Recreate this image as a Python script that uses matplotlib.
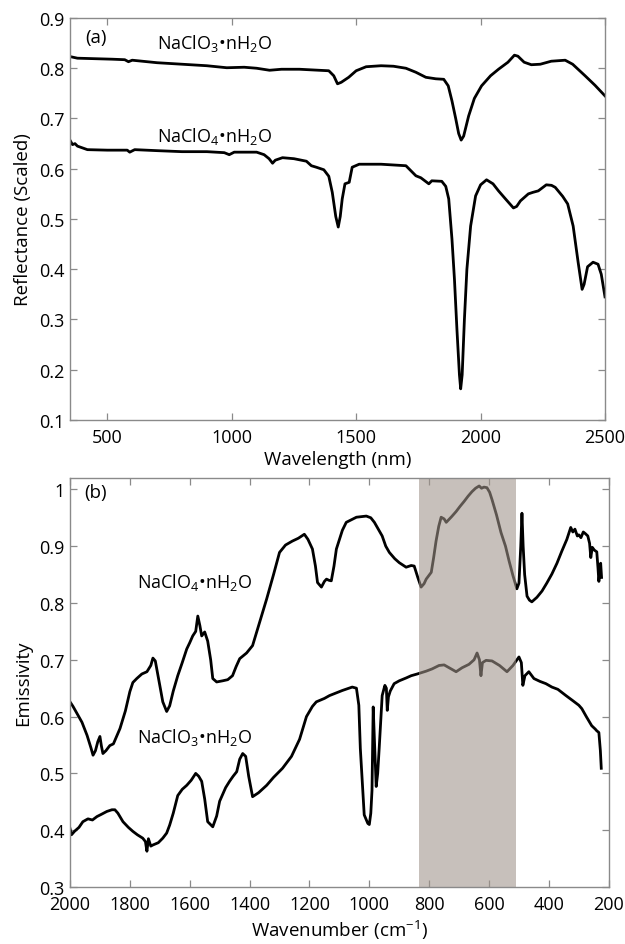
import matplotlib
matplotlib.use("Agg")
import matplotlib.pyplot as plt

plt.rcParams['font.family'] = ['Open Sans', 'DejaVu Sans']
plt.rcParams['mathtext.fontset'] = 'custom'
plt.rcParams['mathtext.rm'] = 'Open Sans'
plt.rcParams['mathtext.it'] = 'Open Sans:italic'

# (a) VNIR reflectance, wavelength in nm
wl_chlorate = [352, 380, 450, 520, 570, 585, 600, 700, 800, 900, 980, 1050, 1100, 1152, 1200,
               1272, 1350, 1390, 1410, 1425, 1440, 1470, 1500, 1540, 1600, 1650, 1700, 1740,
               1780, 1820, 1852, 1870, 1885, 1900, 1912, 1922, 1932, 1952, 1975, 2004, 2040,
               2072, 2110, 2136, 2150, 2175, 2204, 2240, 2284, 2340, 2370, 2420, 2460, 2500]
refl_chlorate = [0.823, 0.820, 0.819, 0.818, 0.817, 0.813, 0.816, 0.811, 0.808, 0.805, 0.801,
                 0.802, 0.800, 0.796, 0.798, 0.798, 0.796, 0.795, 0.785, 0.769, 0.772, 0.782,
                 0.795, 0.803, 0.805, 0.804, 0.800, 0.792, 0.782, 0.779, 0.778, 0.765, 0.735,
                 0.700, 0.670, 0.657, 0.665, 0.705, 0.740, 0.765, 0.785, 0.798, 0.812, 0.826,
                 0.824, 0.812, 0.807, 0.808, 0.814, 0.816, 0.808, 0.785, 0.766, 0.745]

wl_perchlorate = [352, 360, 370, 380, 420, 500, 580, 590, 610, 700, 800, 900, 970, 990, 1010,
                  1100, 1130, 1150, 1164, 1175, 1204, 1250, 1300, 1320, 1340, 1370, 1390, 1404,
                  1418, 1428, 1436, 1444, 1455, 1472, 1484, 1512, 1600, 1700, 1740, 1760, 1792,
                  1804, 1844, 1860, 1872, 1885, 1895, 1905, 1915, 1920, 1926, 1935, 1945, 1960,
                  1980, 2000, 2024, 2050, 2072, 2100, 2132, 2145, 2160, 2192, 2210, 2232, 2264,
                  2285, 2300, 2330, 2350, 2372, 2392, 2408, 2416, 2430, 2452, 2472, 2485, 2500]
refl_perchlorate = [0.655, 0.648, 0.650, 0.645, 0.638, 0.637, 0.637, 0.633, 0.638, 0.636, 0.634,
                    0.634, 0.632, 0.628, 0.633, 0.633, 0.628, 0.620, 0.611, 0.617, 0.622, 0.620,
                    0.615, 0.606, 0.603, 0.598, 0.585, 0.553, 0.505, 0.484, 0.505, 0.540, 0.570,
                    0.573, 0.603, 0.609, 0.609, 0.606, 0.586, 0.582, 0.570, 0.576, 0.575, 0.565,
                    0.540, 0.460, 0.380, 0.280, 0.190, 0.162, 0.190, 0.300, 0.400, 0.486, 0.546,
                    0.568, 0.578, 0.570, 0.556, 0.540, 0.522, 0.525, 0.536, 0.550, 0.553, 0.556,
                    0.568, 0.567, 0.563, 0.545, 0.530, 0.486, 0.414, 0.360, 0.370, 0.405, 0.414,
                    0.410, 0.390, 0.345]

# (b) thermal IR emissivity, wavenumber in cm-1
wn_perchlorate = [2000, 1990, 1973, 1960, 1943, 1930, 1923, 1915, 1907, 1900, 1895, 1890, 1880,
                  1867, 1855, 1833, 1815, 1800, 1790, 1777, 1760, 1743, 1730, 1723, 1715, 1710,
                  1700, 1690, 1677, 1667, 1655, 1640, 1625, 1610, 1600, 1590, 1580, 1573, 1566,
                  1560, 1550, 1540, 1530, 1523, 1510, 1490, 1473, 1457, 1445, 1433, 1410, 1390,
                  1370, 1343, 1320, 1300, 1280, 1257, 1237, 1217, 1205, 1190, 1180, 1173, 1160,
                  1150, 1143, 1135, 1127, 1118, 1110, 1090, 1077, 1043, 1010, 995, 983, 970, 957,
                  945, 933, 915, 900, 877, 860, 850, 838, 827, 817, 810, 793, 785, 777, 768, 760,
                  750, 743, 725, 710, 697, 683, 670, 657, 645, 633, 625, 617, 607, 598, 590, 575,
                  560, 545, 533, 520, 507, 500, 494, 490, 486, 481, 473, 465, 457, 440, 423, 407,
                  390, 373, 357, 340, 327, 320, 313, 305, 300, 293, 285, 278, 270, 264, 260, 255,
                  248, 240, 236, 233, 230, 227, 224]
emis_perchlorate = [0.626, 0.618, 0.602, 0.590, 0.567, 0.545, 0.532, 0.540, 0.556, 0.565, 0.548,
                    0.535, 0.540, 0.549, 0.552, 0.579, 0.610, 0.644, 0.660, 0.667, 0.675, 0.679,
                    0.690, 0.703, 0.698, 0.684, 0.655, 0.626, 0.609, 0.619, 0.645, 0.672, 0.695,
                    0.719, 0.730, 0.742, 0.750, 0.777, 0.760, 0.742, 0.749, 0.733, 0.700, 0.667,
                    0.661, 0.663, 0.665, 0.672, 0.688, 0.702, 0.712, 0.725, 0.760, 0.807, 0.850,
                    0.889, 0.902, 0.909, 0.914, 0.921, 0.912, 0.895, 0.865, 0.836, 0.828, 0.838,
                    0.842, 0.840, 0.839, 0.865, 0.895, 0.928, 0.942, 0.951, 0.953, 0.950, 0.942,
                    0.930, 0.918, 0.900, 0.889, 0.878, 0.871, 0.863, 0.866, 0.865, 0.845, 0.828,
                    0.834, 0.842, 0.854, 0.880, 0.909, 0.935, 0.951, 0.948, 0.942, 0.952, 0.961,
                    0.970, 0.979, 0.988, 0.996, 1.002, 1.006, 1.002, 1.004, 1.003, 0.995, 0.982,
                    0.955, 0.924, 0.900, 0.874, 0.848, 0.825, 0.835, 0.900, 0.958, 0.900, 0.850,
                    0.812, 0.805, 0.802, 0.810, 0.821, 0.835, 0.851, 0.870, 0.891, 0.912, 0.933,
                    0.925, 0.930, 0.918, 0.920, 0.915, 0.925, 0.922, 0.918, 0.905, 0.880, 0.898,
                    0.893, 0.890, 0.862, 0.838, 0.855, 0.870, 0.845]

wn_chlorate = [2000, 1995, 1985, 1970, 1957, 1940, 1925, 1910, 1895, 1877, 1860, 1850, 1840,
               1823, 1805, 1790, 1775, 1757, 1748, 1743, 1738, 1730, 1723, 1705, 1690, 1677,
               1667, 1655, 1640, 1625, 1610, 1595, 1580, 1570, 1560, 1550, 1540, 1523, 1510,
               1500, 1480, 1467, 1455, 1443, 1433, 1423, 1413, 1403, 1390, 1370, 1343, 1320,
               1290, 1260, 1233, 1210, 1190, 1177, 1150, 1133, 1090, 1057, 1043, 1035, 1030,
               1017, 1005, 1000, 995, 991, 987, 983, 977, 972, 967, 957, 948, 943, 940, 936,
               930, 917, 900, 877, 860, 840, 810, 790, 767, 750, 730, 710, 690, 667, 650, 640,
               632, 627, 622, 610, 590, 565, 540, 520, 500, 492, 487, 480, 467, 450, 430, 410,
               390, 370, 343, 320, 300, 290, 275, 257, 245, 240, 233, 228, 225]
emis_chlorate = [0.403, 0.392, 0.398, 0.405, 0.415, 0.420, 0.418, 0.424, 0.428, 0.433, 0.436,
                 0.436, 0.430, 0.415, 0.405, 0.398, 0.392, 0.386, 0.380, 0.363, 0.385, 0.372,
                 0.374, 0.378, 0.386, 0.395, 0.409, 0.430, 0.461, 0.472, 0.479, 0.488, 0.500,
                 0.495, 0.486, 0.455, 0.415, 0.406, 0.425, 0.451, 0.475, 0.486, 0.495, 0.503,
                 0.525, 0.535, 0.530, 0.495, 0.459, 0.466, 0.479, 0.493, 0.509, 0.530, 0.560,
                 0.600, 0.618, 0.626, 0.632, 0.637, 0.646, 0.652, 0.650, 0.620, 0.544, 0.427,
                 0.412, 0.410, 0.430, 0.470, 0.617, 0.560, 0.477, 0.500, 0.544, 0.637, 0.655,
                 0.650, 0.611, 0.635, 0.645, 0.658, 0.663, 0.668, 0.672, 0.675, 0.680, 0.684,
                 0.690, 0.691, 0.685, 0.679, 0.686, 0.692, 0.700, 0.712, 0.700, 0.672, 0.695,
                 0.699, 0.698, 0.690, 0.679, 0.690, 0.705, 0.695, 0.655, 0.672, 0.679, 0.667,
                 0.662, 0.658, 0.652, 0.648, 0.637, 0.628, 0.620, 0.614, 0.600, 0.584, 0.578,
                 0.575, 0.572, 0.540, 0.509]

shade_range = (510, 835)

spine_gray = '#8a8a8a'
lw = 2.0
tick_fs = 13
label_fs = 13.5

chlorate_lbl = r'NaClO$_3$•nH$_2$O'
perchlorate_lbl = r'NaClO$_4$•nH$_2$O'


def style_axes(ax):
    for s in ax.spines.values():
        s.set_color(spine_gray)
        s.set_linewidth(1.0)
    ax.tick_params(direction='in', length=5, width=0.9, color=spine_gray,
                   labelsize=tick_fs, top=True, right=True)
    ax.tick_params(axis='x', pad=6)
    ax.tick_params(axis='y', pad=4)


fig = plt.figure(figsize=(6.25, 9.45), dpi=100)

ax1 = fig.add_axes([0.112, 0.5545, 0.856, 0.4254])
ax1.plot(wl_chlorate, refl_chlorate, color='black', lw=lw)
ax1.plot(wl_perchlorate, refl_perchlorate, color='black', lw=lw)
ax1.set_xlim(350, 2500)
ax1.set_ylim(0.1, 0.9)
ax1.set_xticks([500, 1000, 1500, 2000, 2500])
ax1.set_yticks([0.1, 0.2, 0.3, 0.4, 0.5, 0.6, 0.7, 0.8, 0.9])
ax1.set_xlabel('Wavelength (nm)', fontsize=label_fs, labelpad=3)
ax1.set_ylabel('Reflectance (Scaled)', fontsize=label_fs, labelpad=5)
ax1.text(0.048, 0.953, '(a)', transform=ax1.transAxes, ha='center', va='center', fontsize=label_fs)
ax1.text(700, 0.852, chlorate_lbl, ha='left', va='center', fontsize=tick_fs)
ax1.text(700, 0.667, perchlorate_lbl, ha='left', va='center', fontsize=tick_fs)
style_axes(ax1)

ax2 = fig.add_axes([0.112, 0.0603, 0.862, 0.4328])
ax2.plot(wn_perchlorate, emis_perchlorate, color='black', lw=lw)
ax2.plot(wn_chlorate, emis_chlorate, color='black', lw=lw)
ax2.axvspan(*shade_range, color='#a0938a', alpha=0.58, lw=0, zorder=2.2)
ax2.set_xlim(2000, 200)
ax2.set_ylim(0.3, 1.02)
ax2.set_xticks([2000, 1800, 1600, 1400, 1200, 1000, 800, 600, 400, 200])
ax2.set_yticks([0.3, 0.4, 0.5, 0.6, 0.7, 0.8, 0.9, 1.0])
ax2.set_yticklabels(['0.3', '0.4', '0.5', '0.6', '0.7', '0.8', '0.9', '1'])
ax2.set_xlabel(r'Wavenumber (cm$^{-1}$)', fontsize=label_fs, labelpad=3)
ax2.set_ylabel('Emissivity', fontsize=label_fs, labelpad=5)
ax2.text(0.048, 0.966, '(b)', transform=ax2.transAxes, ha='center', va='center', fontsize=label_fs)
ax2.text(1777, 0.837, perchlorate_lbl, ha='left', va='center', fontsize=tick_fs)
ax2.text(1777, 0.565, chlorate_lbl, ha='left', va='center', fontsize=tick_fs)
style_axes(ax2)

fig.savefig('out.png', dpi=100)
